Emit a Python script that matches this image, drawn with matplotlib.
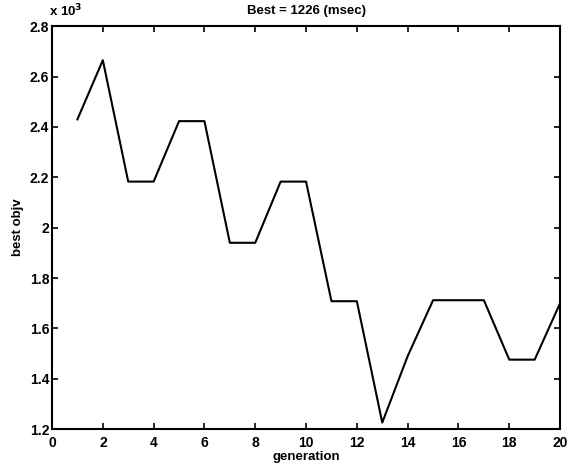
import matplotlib
matplotlib.use("Agg")
import matplotlib.pyplot as plt
from matplotlib.ticker import FuncFormatter

# best objective value per generation (msec)
generations = list(range(1, 21))
best_objv = [2430, 2665, 2183, 2183, 2423, 2423, 1940, 1940, 2183, 2183,
             1708, 1708, 1226, 1490, 1712, 1712, 1712, 1476, 1476, 1700]
best = min(best_objv)

plt.rcParams['font.family'] = ['Liberation Sans', 'DejaVu Sans']
plt.rcParams['font.weight'] = 'bold'

fig = plt.figure(figsize=(5.78, 4.68), dpi=100)
ax = fig.add_axes([0.09, 0.083, 0.879, 0.861])

ax.plot(generations, best_objv, color='black', linewidth=1.5)

ax.set_xlim(0, 20)
ax.set_ylim(1200, 2800)
ax.set_xticks(range(0, 21, 2))
ax.set_yticks([1200, 1400, 1600, 1800, 2000, 2200, 2400, 2600, 2800])
ax.yaxis.set_major_formatter(FuncFormatter(lambda v, p: '%g' % (v / 1000)))

ax.tick_params(direction='in', length=4, width=1.2, top=True, right=True,
               labelsize=10)
ax.tick_params(axis='x', pad=5)
ax.tick_params(axis='y', pad=2)
for lbl in ax.get_xticklabels() + ax.get_yticklabels():
    lbl.set_fontweight('bold')
for s in ax.spines.values():
    s.set_linewidth(1.5)

ax.text(-0.005, 1.018, r'x 10$^3$', transform=ax.transAxes, fontsize=9.5,
        fontweight='bold', ha='left', va='bottom')
ax.set_title('Best = %d (msec)' % best, fontsize=9.5, fontweight='bold', pad=9)
ax.set_xlabel('generation', fontsize=9.5, fontweight='bold', labelpad=1)
ax.set_ylabel('best objv', fontsize=9.5, fontweight='bold', labelpad=4)

fig.savefig('out.png', dpi=100)
